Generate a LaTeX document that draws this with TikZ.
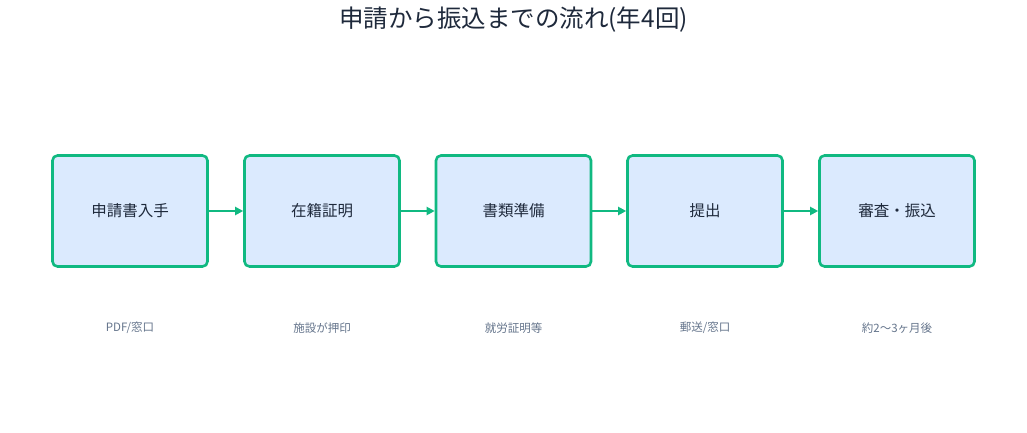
\documentclass[tikz,border=0pt]{standalone}
\usepackage{fontspec}
\setmainfont{Noto Sans CJK JP}
\usetikzlibrary{arrows.meta}
\definecolor{bfill}{HTML}{DBEAFE}
\definecolor{bline}{HTML}{10B981}
\definecolor{tdark}{HTML}{1E293B}
\definecolor{tgray}{HTML}{64748B}
\begin{document}
\begin{tikzpicture}[x=1pt,y=-1pt,
  box/.style={draw=bline,line width=2.6pt,fill=bfill,rounded corners=5pt,minimum width=155pt,minimum height=111pt,inner sep=0pt,text=tdark,font=\fontsize{15.5}{18}\selectfont},
  captxt/.style={text=tgray,font=\fontsize{11.5}{14}\selectfont},
  arr/.style={draw=bline,line width=2.8pt,-{Triangle[length=8pt,width=8pt]}}]
\useasboundingbox (0,0) rectangle (1027,433);
\node[text=tdark,font=\fontsize{24.5}{28}\selectfont] (title) at (513.5,20) {申請から振込までの流れ(年4回)};
\node[box] (b1) at (130,211) {申請書入手};
\node[box] (b2) at (322,211) {在籍証明};
\node[box] (b3) at (513.5,211) {書類準備};
\node[box] (b4) at (705,211) {提出};
\node[box] (b5) at (897,211) {審査・振込};
\draw[arr] (b1) -- (b2);
\draw[arr] (b2) -- (b3);
\draw[arr] (b3) -- (b4);
\draw[arr] (b4) -- (b5);
\node[captxt] (c1) at (130,328) {PDF/窓口};
\node[captxt] (c2) at (322,328) {施設が押印};
\node[captxt] (c3) at (513.5,328) {就労証明等};
\node[captxt] (c4) at (705,328) {郵送/窓口};
\node[captxt] (c5) at (897,328) {約2〜3ヶ月後};
\end{tikzpicture}
\end{document}
